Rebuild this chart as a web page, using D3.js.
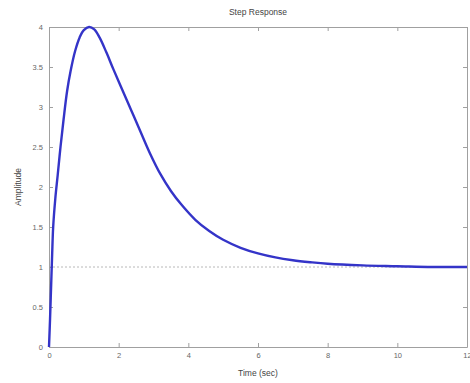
<!DOCTYPE html>
<html>
<head>
<meta charset="utf-8">
<script src="https://cdn.jsdelivr.net/npm/d3@7"></script>
<style>
  body { margin: 0; background: #fff; }
  svg { display: block; font-family: "Liberation Sans", Arial, sans-serif; }
</style>
</head>
<body>
<div id="chart"></div>
<script>
const time = [0, 0.03, 0.06, 0.09, 0.12, 0.18, 0.25, 0.33, 0.42, 0.52, 0.62, 0.75, 0.88, 1.0, 1.15,
  1.3, 1.45, 1.65, 1.85, 2.1, 2.35, 2.6, 2.9, 3.2, 3.5, 3.8, 4.2, 4.6, 5.0, 5.5, 6.0, 6.5, 7.0,
  7.5, 8.0, 9.0, 10.0, 11.0, 12.0];
const amplitude = [0, 0.35, 0.75, 1.15, 1.5, 1.85, 2.15, 2.5, 2.85, 3.2, 3.45, 3.7, 3.87, 3.96, 4.0,
  3.97, 3.87, 3.68, 3.47, 3.22, 2.97, 2.72, 2.42, 2.16, 1.95, 1.78, 1.59, 1.45, 1.34, 1.24, 1.17, 1.12, 1.085,
  1.06, 1.04, 1.02, 1.01, 1.0, 1.0];
const xTicks = [0, 2, 4, 6, 8, 10, 12];
const yTicks = [0, 0.5, 1, 1.5, 2, 2.5, 3, 3.5, 4];
const finalValue = 1;

const width = 470, height = 383;
const margin = { top: 27, right: 3, bottom: 36, left: 49 };
const axisColor = '#a0a0a0';
const textColor = '#666';

const svg = d3.select('#chart').append('svg')
  .attr('width', width)
  .attr('height', height);

const x = d3.scaleLinear().domain([0, 12]).range([margin.left, width - margin.right]);
const y = d3.scaleLinear().domain([0, 4]).range([height - margin.bottom, margin.top]);

// steady-state reference line
svg.append('line')
  .attr('x1', x(0)).attr('x2', x(12))
  .attr('y1', y(finalValue)).attr('y2', y(finalValue))
  .attr('stroke', '#b8b8b8')
  .attr('stroke-dasharray', '2,2');

const styleAxis = g => {
  g.select('.domain').attr('stroke', axisColor);
  g.selectAll('.tick line').attr('stroke', axisColor);
  g.selectAll('.tick text').attr('fill', textColor).attr('font-size', 7.5);
};

svg.append('g')
  .attr('transform', `translate(0,${y(0)})`)
  .call(d3.axisBottom(x).tickValues(xTicks).tickSize(-4).tickPadding(6).tickSizeOuter(0))
  .call(styleAxis);

svg.append('g')
  .attr('transform', `translate(0,${y(4)})`)
  .call(d3.axisTop(x).tickValues(xTicks).tickSize(-4).tickFormat('').tickSizeOuter(0))
  .call(styleAxis);

svg.append('g')
  .attr('transform', `translate(${x(0)},0)`)
  .call(d3.axisLeft(y).tickValues(yTicks).tickSize(-4).tickPadding(6).tickFormat(d3.format('~g')).tickSizeOuter(0))
  .call(styleAxis);

svg.append('g')
  .attr('transform', `translate(${x(12)},0)`)
  .call(d3.axisRight(y).tickValues(yTicks).tickSize(-4).tickFormat('').tickSizeOuter(0))
  .call(styleAxis);

const line = d3.line()
  .x((d, i) => x(time[i]))
  .y(d => y(d))
  .curve(d3.curveCatmullRom.alpha(0.5));

svg.append('path')
  .datum(amplitude)
  .attr('fill', 'none')
  .attr('stroke', '#3434c8')
  .attr('stroke-width', 2.4)
  .attr('stroke-linejoin', 'round')
  .attr('d', line);

svg.append('text')
  .attr('x', (x(0) + x(12)) / 2)
  .attr('y', 15)
  .attr('text-anchor', 'middle')
  .attr('font-size', 8.5)
  .attr('fill', '#444')
  .text('Step Response');

svg.append('text')
  .attr('x', (x(0) + x(12)) / 2)
  .attr('y', 376)
  .attr('text-anchor', 'middle')
  .attr('font-size', 8.5)
  .attr('fill', '#444')
  .text('Time (sec)');

svg.append('text')
  .attr('transform', `translate(21,${(y(0) + y(4)) / 2}) rotate(-90)`)
  .attr('text-anchor', 'middle')
  .attr('font-size', 8.5)
  .attr('fill', '#444')
  .text('Amplitude');
</script>
</body>
</html>
